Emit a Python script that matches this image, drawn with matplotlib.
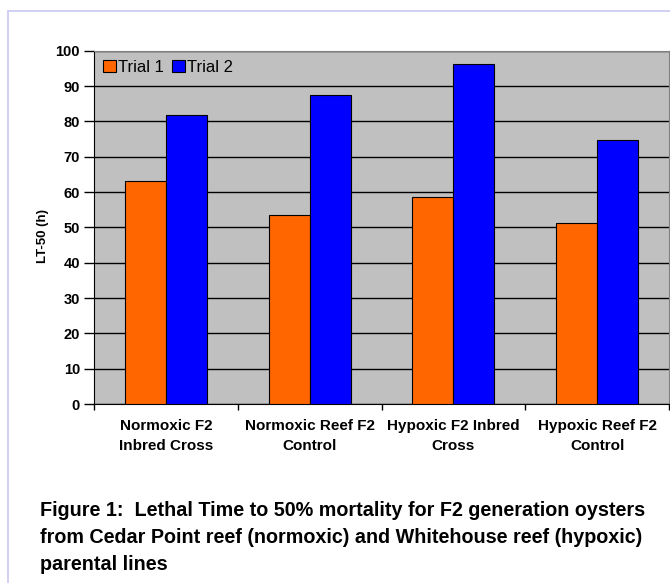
import matplotlib.pyplot as plt
import numpy as np
from matplotlib.patches import Rectangle

categories = ["Normoxic F2\nInbred Cross", "Normoxic Reef F2\nControl",
              "Hypoxic F2 Inbred\nCross", "Hypoxic Reef F2\nControl"]
trial1 = [63.0, 53.5, 58.5, 51.3]
trial2 = [81.7, 87.6, 96.1, 74.7]
yticks = [0, 10, 20, 30, 40, 50, 60, 70, 80, 90, 100]

plt.rcParams["font.family"] = ["Liberation Sans", "DejaVu Sans"]

W, H = 670, 583
fig = plt.figure(figsize=(W / 100, H / 100), dpi=100)

# light frame around the chart object
fig.patches.append(Rectangle((7.5 / W, -0.1), 1.2, 1 - 11 / H + 0.1,
                             transform=fig.transFigure, fill=False,
                             edgecolor="#C8C8F4", lw=1.2))

ax = fig.add_axes([94 / W, 1 - 404 / H, 575 / W, (404 - 50.7) / H])
ax.set_facecolor("#C0C0C0")

x = np.arange(len(categories))
w = 1 / 3.5
ax.bar(x - w / 2, trial1, w, color="#FF6600", edgecolor="black", lw=0.8,
       label="Trial 1", zorder=3)
ax.bar(x + w / 2, trial2, w, color="#0000FF", edgecolor="black", lw=0.8,
       label="Trial 2", zorder=3)

ax.set_xlim(-0.5, len(categories) - 0.5)
ax.set_ylim(0, 100)
ax.set_yticks(yticks)
ax.set_yticklabels([str(v) for v in yticks], fontsize=10.5, fontweight="bold")
ax.yaxis.grid(True, color="black", lw=1.0, zorder=1)
ax.set_axisbelow(True)

ax.set_xticks(np.arange(len(categories) + 1) - 0.5, minor=False)
ax.set_xticklabels([])
ax.tick_params(axis="x", length=4, width=1)
ax.tick_params(axis="y", length=7, width=1, pad=3)
for i, lab in enumerate(categories):
    ax.text(i, -4.3, lab, ha="center", va="top", fontsize=11,
            fontweight="bold", linespacing=1.52)

for s in ["top", "right"]:
    ax.spines[s].set_color("#808080")
for s in ["left", "bottom"]:
    ax.spines[s].set_color("black")

fig.text(43 / W, 1 - 236 / H, "LT-50 (h)", rotation=90, ha="center",
         va="center", fontsize=9.5, fontweight="bold")

leg = ax.legend(loc="upper left", frameon=False, ncol=2, fontsize=12,
                handlelength=0.75, handleheight=0.75, handletextpad=0.15,
                columnspacing=0.5, borderaxespad=0.3, borderpad=0.25)

fig.text(40 / W, 1 - 501 / H,
         "Figure 1:  Lethal Time to 50% mortality for F2 generation oysters\n"
         "from Cedar Point reef (normoxic) and Whitehouse reef (hypoxic)\n"
         "parental lines",
         ha="left", va="top", fontsize=14.2, fontweight="bold",
         linespacing=1.55)

fig.savefig("out.png", dpi=100, facecolor="white")
